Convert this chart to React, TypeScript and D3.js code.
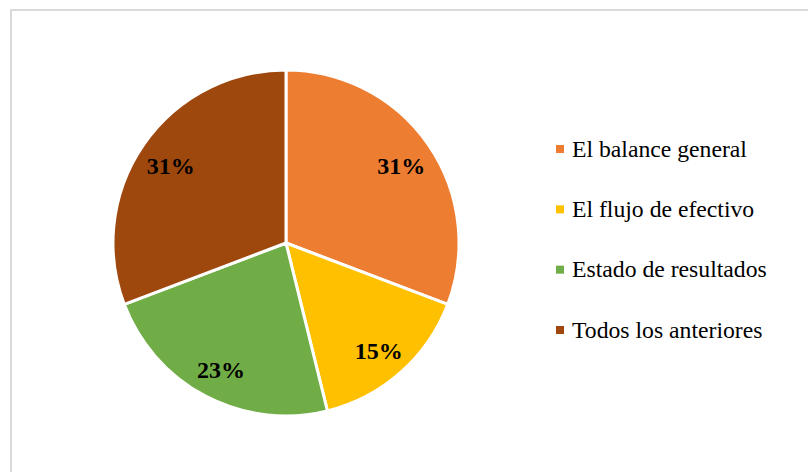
import React, { useRef, useEffect } from 'react';
import * as d3 from 'd3';

const categories = ['El balance general', 'El flujo de efectivo', 'Estado de resultados', 'Todos los anteriores'];
const counts = [4, 2, 3, 4];
const colors = ['#ED7D31', '#FFC000', '#70AD47', '#9E480E'];

const width = 808;
const height = 472;

export default function App() {
  const svgRef = useRef<SVGSVGElement>(null);

  useEffect(() => {
    if (!svgRef.current) return;
    const svg = d3.select(svgRef.current);
    svg.selectAll('*').remove();

    // chart area border
    svg.append('rect')
      .attr('x', 11)
      .attr('y', 10)
      .attr('width', width + 10)
      .attr('height', height + 10)
      .attr('fill', '#ffffff')
      .attr('stroke', '#d9d9d9')
      .attr('stroke-width', 2);

    const cx = 286;
    const cy = 243;
    const radius = 173;
    const total = d3.sum(counts);

    const pie = d3.pie<number>().sort(null).value(d => d);
    const arcs = pie(counts);
    const arc = d3.arc<d3.PieArcDatum<number>>().innerRadius(0).outerRadius(radius);
    const labelArc = d3.arc<d3.PieArcDatum<number>>().innerRadius(140).outerRadius(140);

    const g = svg.append('g').attr('transform', `translate(${cx},${cy})`);

    g.selectAll('path')
      .data(arcs)
      .enter()
      .append('path')
      .attr('d', arc)
      .attr('fill', (_, i) => colors[i])
      .attr('stroke', '#ffffff')
      .attr('stroke-width', 3)
      .attr('stroke-linejoin', 'round');

    g.selectAll('text.lbl')
      .data(arcs)
      .enter()
      .append('text')
      .attr('class', 'lbl')
      .attr('transform', d => `translate(${labelArc.centroid(d)})`)
      .attr('text-anchor', 'middle')
      .attr('dy', '0.45em')
      .attr('font-family', '"Liberation Serif", "Times New Roman", serif')
      .attr('font-weight', 'bold')
      .attr('font-size', 24)
      .attr('fill', '#000000')
      .text(d => `${Math.round((d.data / total) * 100)}%`);

    // legend
    const legendY = d3.scalePoint<string>()
      .domain(categories)
      .range([149, 330]);

    const legend = svg.append('g');
    const items = legend.selectAll('g')
      .data(categories)
      .enter()
      .append('g')
      .attr('transform', d => `translate(556,${legendY(d)})`);

    items.append('rect')
      .attr('x', 0)
      .attr('y', -4)
      .attr('width', 8)
      .attr('height', 8)
      .attr('fill', (_, i) => colors[i]);

    items.append('text')
      .attr('x', 16)
      .attr('y', 7.5)
      .attr('font-family', '"Liberation Serif", "Times New Roman", serif')
      .attr('font-size', 23.7)
      .attr('fill', '#000000')
      .text(d => d);
  }, []);

  return (
    <div style={{ position: 'fixed', left: 0, top: 0, width, height, overflow: 'hidden', background: '#fff' }}>
      <svg ref={svgRef} width={width} height={height} />
    </div>
  );
}
